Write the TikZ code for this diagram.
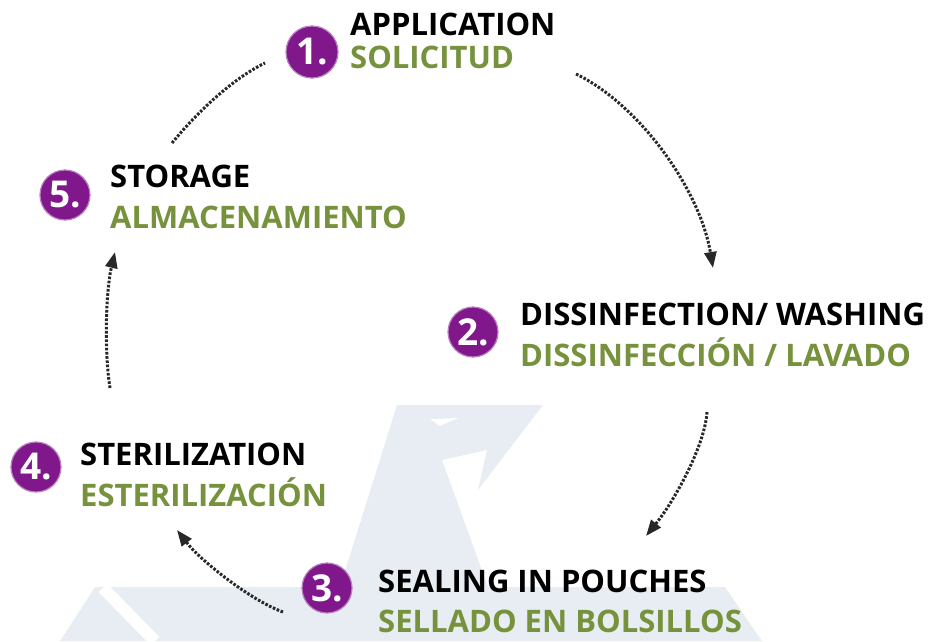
\documentclass[tikz,border=0pt]{standalone}
\usepackage{fontspec}
\setmainfont{Open Sans}
\usetikzlibrary{arrows.meta}
\definecolor{stepnum}{RGB}{128,24,140}
\definecolor{stepgreen}{RGB}{118,146,60}
\definecolor{wmark}{RGB}{231,237,242}
\definecolor{arrowgray}{RGB}{40,40,40}

\begin{document}
\begin{tikzpicture}[x=1pt, y=-1pt,
  num/.style={circle, fill=stepnum, draw=stepnum!55, line width=1.2pt,
              minimum size=50pt, inner sep=0pt, text=white,
              font=\bfseries\fontsize{37}{37}\selectfont},
  en/.style={anchor=base west, inner sep=0pt,
             font=\bfseries\fontsize{31}{33}\selectfont},
  es/.style={en, text=stepgreen},
  ar/.style={draw=arrowgray, line width=3pt, dash pattern=on 2.6pt off 1.6pt,
             -{Triangle[length=16pt,width=12pt]}},
  ln/.style={ar, -}]
\useasboundingbox (0,0) rectangle (944,641);
% watermark
\fill[wmark] (397,405) -- (543,405) -- (478,490) -- (487,450) -- (442,460)
  -- (488,587) -- (340,587) -- cycle;
\fill[white] (430,419) -- (458,418) -- (440,426) -- cycle;
\fill[wmark] (95,587) -- (725,587) -- (762,641) -- (60,641) -- cycle;
\draw[white, line width=12pt] (103,588) -- (155,641);
% steps
\node[num, minimum size=52pt] (n1) at (312,52) {1.};
\node[en] (e1) at (350,35) {APPLICATION};
\node[es] (s1) at (350,68) {SOLICITUD};
\node[num] (n2) at (473,332) {2.};
\node[en] (e2) at (520,325) {DISSINFECTION/ WASHING};
\node[es] (s2) at (520,366) {DISSINFECCIÓN / LAVADO};
\node[num] (n3) at (327,588) {3.};
\node[en] (e3) at (378,592) {SEALING IN POUCHES};
\node[es] (s3) at (378,632) {SELLADO EN BOLSILLOS};
\node[num] (n4) at (36,467) {4.};
\node[en] (e4) at (80,465) {STERILIZATION};
\node[es] (s4) at (80,506) {ESTERILIZACIÓN};
\node[num] (n5) at (65,195) {5.};
\node[en] (e5) at (110,187) {STORAGE};
\node[es] (s5) at (110,228) {ALMACENAMIENTO};
% arrows
\coordinate (a1) at (576,74);  \coordinate (b1) at (713,268);
\coordinate (a2) at (707,412); \coordinate (b2) at (646,536);
\coordinate (a3) at (283,612); \coordinate (b3) at (177,530);
\coordinate (a4) at (110,388); \coordinate (b4) at (115,252);
\coordinate (a5) at (172,143); \coordinate (b5) at (265,63);
\draw[ar] (a1) .. controls (640,105) and (700,190) .. (b1);
\draw[ar] (a2) .. controls (705,445) and (675,500) .. (b2);
\draw[ar] (a3) .. controls (250,600) and (200,560) .. (b3);
\draw[ar] (a4) .. controls (104,350) and (106,290) .. (b4);
\draw[ln] (a5) .. controls (195,115) and (230,80) .. (b5);
\end{tikzpicture}
\end{document}
